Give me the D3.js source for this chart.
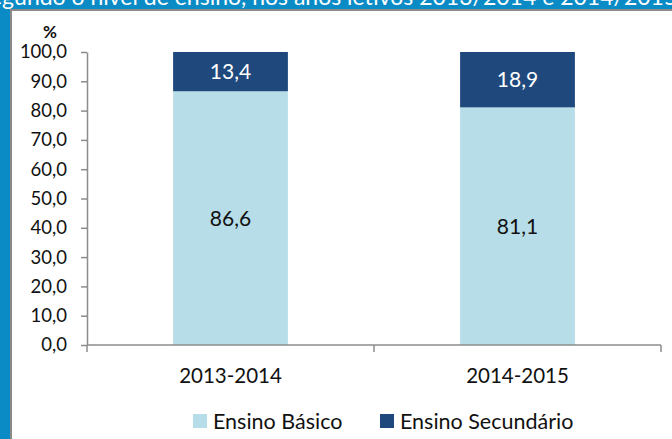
<!DOCTYPE html>
<html lang="pt">
<head>
   <meta charset="UTF-8">
   <title>Ensino Básico e Secundário</title>
   <style>
      body { margin: 0; background: #0a8bc6; }
      svg { display: block; }
      text { font-family: Lato, "Open Sans", sans-serif; }
      .axis path, .axis line { stroke: #8c8c8c; stroke-width: 1.5px; }
      .axis text { fill: #111; }
   </style>
   <script src="https://cdn.jsdelivr.net/npm/d3@7"></script>
</head>
<body>
   <svg width="672" height="439"></svg>
   <script>
      // data
      const years = ['2013-2014', '2014-2015']
      const basico = [86.6, 81.1]
      const secundario = [13.4, 18.9]
      const seriesNames = ['Ensino Básico', 'Ensino Secundário']
      const yTicks = [0, 10, 20, 30, 40, 50, 60, 70, 80, 90, 100]

      const colors = ['#b7dee8', '#1f497d']
      const labelColors = ['#111', '#fff']

      const svg = d3.select('svg')

      // blue frame + title (cut off at the top, as in the source)
      svg.append('text')
         .attr('x', -20)
         .attr('y', 5)
         .attr('fill', '#fff')
         .attr('font-size', 23)
         .text('segundo o nível de ensino, nos anos letivos 2013/2014 e 2014/2015')

      svg.append('rect')
         .attr('x', 11).attr('y', 10)
         .attr('width', 670).attr('height', 440)
         .attr('fill', '#fff')
         .attr('stroke', '#8a8a8a')
         .attr('stroke-width', 2)

      // scales
      const x = d3.scaleBand()
         .domain(years)
         .range([87, 661])
         .paddingInner(0.6)
         .paddingOuter(0.3)

      const y = d3.scaleLinear()
         .domain([0, 100])
         .range([345, 52])

      const rows = years.map((yr, i) => ({ year: yr, basico: basico[i], secundario: secundario[i] }))
      const stack = d3.stack().keys(['basico', 'secundario'])(rows)

      const layers = svg.selectAll('g.layer')
         .data(stack)
         .enter()
         .append('g')
            .attr('class', 'layer')
            .attr('fill', (d, i) => colors[i])

      layers.selectAll('rect')
         .data(d => d)
         .enter()
         .append('rect')
            .attr('x', d => x(d.data.year))
            .attr('y', d => y(d[1]))
            .attr('width', x.bandwidth())
            .attr('height', d => y(d[0]) - y(d[1]))

      layers.selectAll('text')
         .data((d, i) => d.map(v => ({ v, i, key: d.key })))
         .enter()
         .append('text')
            .attr('x', d => x(d.v.data.year) + x.bandwidth() / 2)
            .attr('y', d => (y(d.v[0]) + y(d.v[1])) / 2)
            .attr('dy', '0.36em')
            .attr('text-anchor', 'middle')
            .attr('font-size', 21)
            .attr('fill', d => labelColors[d.i])
            .text(d => d3.format('.1f')(d.v.data[d.key]).replace('.', ','))

      // y axis
      const yAxis = svg.append('g')
         .attr('class', 'axis')
         .attr('transform', 'translate(87,0)')
         .call(d3.axisLeft(y)
            .tickValues(yTicks)
            .tickSize(6)
            .tickSizeOuter(0)
            .tickPadding(14)
            .tickFormat(d => d3.format('.1f')(d).replace('.', ',')))
      yAxis.selectAll('text').attr('font-size', 18.5)

      // x axis: ticks at category boundaries
      const xAxis = svg.append('g')
         .attr('class', 'axis')
         .attr('transform', 'translate(0,345)')
      xAxis.append('line')
         .attr('x1', 87).attr('x2', 661)
      const bounds = [87, (x(years[0]) + x(years[1]) + x.bandwidth()) / 2, 661]
      xAxis.selectAll('line.tick')
         .data(bounds)
         .enter()
         .append('line')
            .attr('class', 'tick')
            .attr('x1', d => d).attr('x2', d => d)
            .attr('y1', 0).attr('y2', 7)
      xAxis.selectAll('text')
         .data(years)
         .enter()
         .append('text')
            .attr('x', d => x(d) + x.bandwidth() / 2)
            .attr('y', 38)
            .attr('text-anchor', 'middle')
            .attr('font-size', 20.5)
            .text(d => d)

      svg.append('text')
         .attr('x', 50).attr('y', 38)
         .attr('text-anchor', 'middle')
         .attr('font-weight', 'bold')
         .attr('font-size', 17)
         .attr('fill', '#111')
         .text('%')

      // legend
      const legend = svg.selectAll('g.legend')
         .data(seriesNames)
         .enter()
         .append('g')
            .attr('class', 'legend')
            .attr('transform', (d, i) => `translate(${[193, 380][i]}, 414)`)
      legend.append('rect')
         .attr('width', 14).attr('height', 14)
         .attr('fill', (d, i) => colors[i])
      legend.append('text')
         .attr('x', 20).attr('y', 7)
         .attr('dy', '0.36em')
         .attr('font-size', 21.5)
         .attr('fill', '#111')
         .text(d => d)
   </script>
</body>
</html>
